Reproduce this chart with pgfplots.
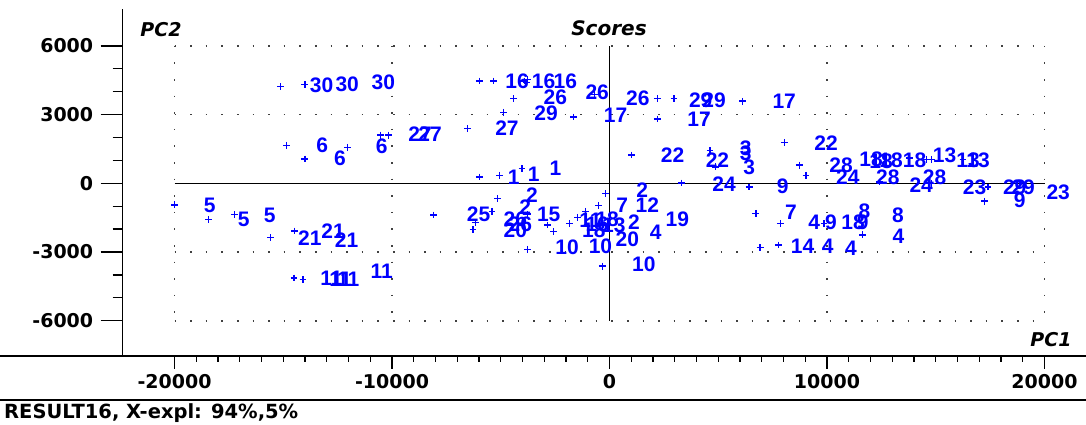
\documentclass[border=0pt]{standalone}
\usepackage{pgfplots}
\pgfplotsset{compat=1.18}
\usepackage{pgfplotstable}
\usepackage{fontspec}
\setmainfont{DejaVu Sans}
\newfontfamily\labfont{Liberation Sans}

\pgfplotstableread{
x y
-15115 4221
-14009 4310
-14853 1663
-14009 1059
-12060 1575
-10521 2104
-10152 2104
-20000 -940
-18433 -1588
-17235 -1367
-15576 -2369
-14470 -2086
-14502 -4133
-14088 -4204
-5991 4468
-5332 4468
-3917 4468
-3779 4521
-3825 4411
-4410 3692
-691 3882
2198 3692
2963 3692
-4871 3101
-1645 2898
2198 2810
-6530 2382
1014 1235
-5991 278
-5055 353
-4023 648
-184 -454
3304 13
-5147 -675
-493 -970
-8097 -1381
-5406 -1222
-6175 -1707
-6281 -2029
-2843 -1822
-2567 -2104
-1829 -1751
-1106 -1222
-1461 -1487
-3765 -2880
-336 -3617
-3765 -1337
4622 1425
4885 719
6419 -163
8032 1778
6115 3586
8724 794
9032 353
12410 57
14562 1045
14793 1045
14793 -13
16253 1045
17405 -163
17249 -781
6728 -1310
7848 -1751
11645 -2250
6926 -2810
7756 -2691
13779 1103
9862 -1764
}\plusdata

\pgfplotstableread{
x y label
-13240 4279 30
-12060 4323 30
-10401 4398 30
-13212 1676 6
-12396 1090 6
-10475 1601 6
-18387 -970 5
-16820 -1588 5
-15622 -1381 5
-13779 -2395 21
-12705 -2073 21
-12088 -2483 21
-12779 -4146 11
-12364 -4204 11
-12014 -4204 11
-10475 -3838 11
-8710 2161 27
-8249 2161 27
-4714 2413 27
-4253 4468 16
-3028 4468 16
-2028 4468 16
-2488 3736 26
-567 3957 26
1304 3705 26
-2917 3075 29
276 2955 17
4194 3630 29
4806 3630 29
4115 2810 17
8032 3586 17
-4410 278 1
-3488 384 1
-2488 648 1
-3562 -529 2
-3871 -1045 2
1507 -309 2
-6023 -1337 25
-4332 -1557 26
-4101 -1778 26
-4332 -2073 20
-2797 -1337 15
-1949 -2810 10
-415 -2735 10
1581 -3542 10
585 -970 7
1737 -970 12
-876 -1632 11
-567 -1778 16
-106 -1557 18
198 -1853 13
-723 -2073 18
1120 -1707 2
2120 -2148 4
816 -2439 20
3120 -1557 19
2903 1235 22
4963 1015 22
6267 1531 3
6267 1310 3
6419 693 3
5267 -44 24
7959 -132 9
9954 1751 22
10645 794 28
10954 278 24
12028 1045 18
12488 940 18
12949 1015 18
12797 278 28
14023 1015 18
15406 1235 13
16484 1015 13
16945 1015 13
14332 -88 24
14945 278 28
16788 -163 23
18631 -163 29
19019 -163 29
18862 -750 9
20631 -384 23
8341 -1266 7
9415 -1707 4
10184 -1707 9
11198 -1707 18
11719 -1222 8
11645 -1707 9
13258 -1412 8
13286 -2294 4
8880 -2735 14
10032 -2735 4
11106 -2836 4
}\labeldata

\pgfplotsset{
  frame/.style={
    at={(122.7pt,69pt)}, anchor=south west,
    scale only axis, width=963.3pt, height=347pt,
    xmin=-22382, xmax=21908, ymin=-7541, ymax=7611,
    scaled ticks=false,
    axis line style={-, line width=1.3pt, black},
    tick align=outside,
    major tick style={line width=1.3pt, black},
    minor tick style={line width=1.3pt, black},
    tick label style={font=\fontsize{19}{19}\selectfont\bfseries},
    clip=false,
  }
}

\begin{document}
\begin{tikzpicture}
\path[use as bounding box] (0pt,0pt) rectangle (1086pt,425pt);
% full-width frame lines
\draw[line width=1.3pt, black] (0pt,69pt) -- (1086pt,69pt);
\draw[line width=1.3pt, black] (0pt,25pt) -- (1086pt,25pt);
% y axis with its own tick lengths
\begin{axis}[frame,
  axis x line=none, axis y line*=left,
  ytick={-6000,-3000,0,3000,6000},
  yticklabels={-6000,-3000,0,3000,6000},
  minor ytick={-5000,-4000,-2000,-1000,1000,2000,4000,5000},
  major tick length=22pt,
  minor tick length=10pt,
  yticklabel style={xshift=-4pt},
]
\end{axis}
\begin{axis}[frame,
  axis x line*=bottom, axis y line=none,
  xtick={-20000,-10000,0,10000,20000},
  xticklabels={-20000,-10000,0,10000,20000},
  minor xtick={-19000,-18000,...,19000},
  major tick length=13pt,
  minor tick length=6pt,
  xticklabel style={yshift=-2pt},
]
% dotted grid
\foreach \gx in {-20000,-10000,10000,20000}{
  \edef\tmp{\noexpand\draw[black!75, line width=1.6pt, dash pattern=on 1.6pt off 15pt] (axis cs:\gx,6000) -- (axis cs:\gx,-6000);}\tmp
}
\foreach \gy in {-6000,-3000,3000,6000}{
  \edef\tmp{\noexpand\draw[black!75, line width=1.6pt, dash pattern=on 1.6pt off 14pt] (axis cs:-20000,\gy) -- (axis cs:20000,\gy);}\tmp
}
\draw[line width=1.3pt, black] (axis cs:-20000,0) -- (axis cs:20000,0);
\draw[line width=1.3pt, black] (axis cs:0,-6000) -- (axis cs:0,6000);

\addplot[only marks, mark=+, mark size=3.4pt, color=blue, mark options={line width=1.4pt}] table[x=x,y=y] {\plusdata};
\addplot[draw=none, mark=none, nodes near coords, point meta=explicit symbolic,
  nodes near coords style={anchor=center, inner sep=0pt, text=blue, font=\labfont\bfseries\fontsize{21}{21}\selectfont}]
  table[x=x,y=y,meta=label] {\labeldata};
\end{axis}
\node[font=\fontsize{20}{20}\selectfont\bfseries\itshape] at (609pt,397pt) {Scores};
\node[font=\fontsize{19}{19}\selectfont\bfseries\itshape] at (161pt,395pt) {PC2};
\node[font=\fontsize{19}{19}\selectfont\bfseries\itshape] at (1051pt,85pt) {PC1};
\node[anchor=west, font=\fontsize{19.5}{19.5}\selectfont\bfseries, inner sep=0pt] at (4pt,12pt) {RESULT16, X-expl: 94\%,5\%};
\end{tikzpicture}
\end{document}
